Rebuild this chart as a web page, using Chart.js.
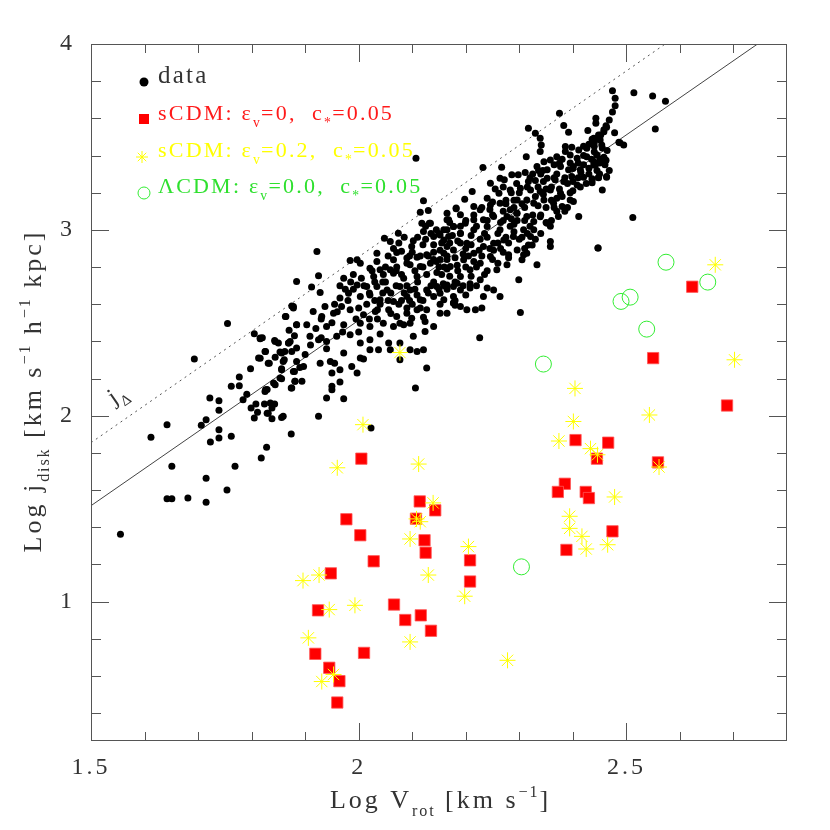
<!DOCTYPE html>
<html lang="en">
<head>
  <meta charset="UTF-8">
  <title>Log j_disk vs Log V_rot</title>
  <script src="https://cdn.jsdelivr.net/npm/chart.js"></script>
  <style>
    body {
      margin: 0;
      padding: 0;
      background: #fff;
    }
    #wrap {
      width: 830px;
      height: 830px;
    }
  </style>
</head>
<body>
  <div id="wrap">
    <canvas id="jChart" width="830" height="830"></canvas>
  </div>

  <script>
    // axis ticks
    const xTickValues = [1.5, 2, 2.5];
    const xTickLabels = ['1.5', '2', '2.5'];
    const xMinorTicks = [1.6, 1.7, 1.8, 1.9, 2.1, 2.2, 2.3, 2.4, 2.6, 2.7];
    const yTickValues = [1, 2, 3, 4];
    const yTickLabels = ['1', '2', '3', '4'];
    const yMinorTicks = [0.4, 0.6, 0.8, 1.2, 1.4, 1.6, 1.8, 2.2, 2.4, 2.6, 2.8, 3.2, 3.4, 3.6, 3.8];

    // observed galaxies [log Vrot, log j]
    const galaxyData = [
      [1.878,2.579],[1.875,2.59],[1.864,2.534],[1.884,2.489],[1.755,2.496],[1.805,2.441],[1.816,2.414],[1.82,2.42],
      [1.843,2.405],[1.85,2.391],[1.869,2.391],[1.872,2.40],[1.884,2.364],[1.826,2.346],[1.856,2.337],[1.862,2.345],
      [1.813,2.31],[1.816,2.309],[1.833,2.283],[1.844,2.314],[1.861,2.301],[1.693,2.305],[1.798,2.253],[1.856,2.253],
      [1.88,2.238],[1.777,2.208],[1.856,2.199],[1.881,2.185],[1.762,2.158],[1.777,2.161],[1.844,2.167],[1.874,2.149],
      [1.826,2.14],[1.829,2.141],[1.791,2.116],[1.722,2.095],[1.739,2.081],[1.784,2.086],[1.808,2.063],[1.824,2.063],
      [1.843,2.063],[1.799,2.041],[1.739,2.029],[1.838,2.041],[1.811,2.019],[1.831,2.014],[1.805,1.988],[1.838,1.984],
      [1.856,1.991],[1.642,1.952],[1.715,1.978],[1.706,1.949],[1.739,1.925],[1.612,1.884],[1.739,1.88],[1.762,1.889],
      [1.874,1.902],[1.723,1.859],[1.828,1.83],[1.818,1.773],[1.651,1.728],[1.769,1.728],[1.715,1.663],[1.754,1.6],
      [1.642,1.554],[1.651,1.554],[1.681,1.557],[1.715,1.534],[1.555,1.362],[2.023,1.934],
      [2.121,3.156],[2.115,3.095],[2.13,3.104],[1.922,2.883],[2.182,3.113],[2.168,3.054],[2.134,3.036],[2.125,3.02],
      [2.121,2.991],[2.074,2.982],[2.048,2.955],[2.059,2.937],[2.102,2.942],[2.099,2.91],[2.14,2.964],[2.152,2.973],
      [2.165,3.0],[2.177,3.018],[2.034,2.874],[2.071,2.878],[2.08,2.885],[1.984,2.835],[1.997,2.839],[2.003,2.82],
      [2.034,2.83],[2.065,2.839],[2.09,2.848],[2.109,2.853],[2.127,2.866],[2.14,2.88],[2.152,2.89],[2.165,2.91],
      [2.021,2.794],[2.04,2.785],[2.059,2.785],[2.071,2.80],[2.096,2.812],[2.115,2.803],[2.134,2.821],[2.152,2.84],
      [2.165,2.86],[2.028,2.749],[2.046,2.76],[2.065,2.767],[2.084,2.74],[2.109,2.749],[2.127,2.76],[2.146,2.77],
      [2.165,2.79],[2.184,2.81],[1.925,2.753],[1.972,2.74],[1.884,2.722],[1.912,2.692],[1.997,2.704],[2.015,2.695],
      [2.034,2.695],[2.053,2.677],[2.077,2.695],[2.096,2.677],[2.109,2.65],[2.127,2.677],[2.146,2.695],[2.165,2.704],
      [2.184,2.713],[1.928,2.663],[1.965,2.633],[1.981,2.659],[2.003,2.641],[2.021,2.65],[2.04,2.624],[2.065,2.615],
      [2.09,2.641],[2.115,2.624],[2.14,2.641],[2.159,2.624],[2.177,2.641],[1.878,2.588],[1.937,2.588],[1.953,2.552],
      [1.968,2.588],[1.984,2.57],[2.009,2.543],[2.031,2.561],[2.056,2.57],[2.071,2.534],[2.09,2.552],[2.109,2.57],
      [2.127,2.57],[2.152,2.552],[2.165,2.552],[2.177,2.606],[1.863,2.534],[1.915,2.561],[1.931,2.534],[1.884,2.489],
      [1.903,2.489],[1.94,2.48],[1.972,2.489],[2.003,2.498],[2.021,2.48],[2.046,2.498],[2.065,2.48],[2.084,2.489],
      [2.096,2.498],[2.124,2.507],[2.14,2.48],[1.909,2.427],[1.925,2.409],[1.94,2.40],[1.959,2.427],[1.984,2.436],
      [2.003,2.391],[2.021,2.409],[2.037,2.355],[2.056,2.391],[2.077,2.391],[2.102,2.427],[2.121,2.355],[2.124,2.453],
      [1.816,2.418],[1.844,2.40],[1.869,2.391],[1.875,2.346],[1.853,2.343],[1.825,2.346],[1.831,2.283],[1.859,2.292],
      [1.884,2.292],[1.897,2.265],[1.928,2.283],[1.947,2.292],[1.955,2.283],[1.972,2.337],[1.987,2.265],[2.003,2.31],
      [2.009,2.305],[1.997,2.23],[1.965,2.248],[1.95,2.23],[1.856,2.248],[1.878,2.238],[1.853,2.203],[1.881,2.185],
      [1.894,2.185],[1.965,2.181],[1.95,2.158],[1.95,2.14],[1.94,2.095],[1.972,2.091],[1.841,2.176],[1.825,2.131],
      [1.875,2.149],[1.835,2.068],[1.829,2.014],[1.859,1.997],[1.925,1.997],[2.106,2.149],[2.127,2.257],[2.109,2.346],
      [2.077,2.301],[2.059,2.355],[2.096,2.355],[2.021,2.355],[1.93,2.42],[2.077,2.498],[2.152,2.60],[2.18,2.595],
      [2.099,2.525],[2.121,2.53],[2.107,3.385],[2.118,3.036],[2.132,3.036],
      [2.375,3.627],[2.383,3.561],[2.392,3.525],[2.428,3.534],[2.458,3.538],[2.462,3.56],[2.486,3.471],[2.317,3.547],
      [2.33,3.52],[2.339,3.493],[2.341,3.457],[2.339,3.421],[2.436,3.487],[2.445,3.49],[2.448,3.51],[2.44,3.45],
      [2.44,3.47],[2.386,3.448],[2.398,3.445],[2.411,3.43],[2.426,3.439],[2.386,3.421],[2.395,3.403],[2.408,3.385],
      [2.426,3.394],[2.445,3.403],[2.458,3.385],[2.37,3.394],[2.358,3.376],[2.346,3.367],[2.313,3.394],[2.439,3.349],
      [2.43,3.332],[2.414,3.323],[2.401,3.341],[2.392,3.323],[2.377,3.341],[2.365,3.35],[2.352,3.323],[2.333,3.341],
      [2.336,3.32],[2.344,3.32],[2.232,3.335],[2.267,3.337],[2.286,3.296],[2.298,3.296],[2.311,3.308],[2.264,3.278],
      [2.272,3.27],[2.246,3.251],[2.317,3.26],[2.33,3.265],[2.352,3.278],[2.367,3.269],[2.383,3.26],[2.398,3.287],
      [2.42,3.283],[2.436,3.269],[2.448,3.283],[2.463,3.283],[2.408,3.242],[2.414,3.23],[2.4,3.21],[2.212,3.206],
      [2.198,3.165],[2.24,3.17],[2.262,3.197],[2.283,3.215],[2.302,3.224],[2.321,3.215],[2.339,3.206],[2.358,3.215],
      [2.377,3.197],[2.395,3.161],[2.401,3.152],[2.182,3.117],[2.165,3.054],[2.19,3.081],[2.215,3.126],[2.227,3.108],
      [2.246,3.134],[2.264,3.143],[2.275,3.16],[2.296,3.161],[2.314,3.161],[2.327,3.143],[2.346,3.161],[2.364,3.143],
      [2.38,3.126],[2.373,3.072],[2.352,3.036],[2.358,3.02],[2.314,3.072],[2.296,3.09],[2.277,3.072],[2.252,3.072],
      [2.233,3.054],[2.215,3.054],[2.199,3.036],[2.177,3.018],[2.159,3.0],[2.168,2.964],[2.19,2.982],[2.215,3.0],
      [2.24,3.018],[2.264,3.0],[2.283,3.02],[2.308,3.0],[2.327,3.0],[2.411,3.072],[2.447,2.903],[2.358,2.937],
      [2.358,2.91],[2.324,2.919],[2.333,2.812],[2.308,2.866],[2.305,2.839],[2.299,2.731],[2.302,2.555],[2.226,2.419],
      [2.264,2.642],[2.252,2.677],[2.233,2.642],[2.24,2.687],[2.23,2.579],[2.218,2.57],[2.202,2.57],[2.19,2.588],
      [2.177,2.606],[2.208,2.687],[2.208,2.71],[2.227,2.731],[2.258,2.785],[2.277,2.812],[2.28,2.866],[2.296,2.892],
      [2.252,2.89],[2.314,2.874],[2.317,2.919],[2.246,2.857],[2.227,2.821],[2.208,2.785],[2.19,2.749],[2.177,2.695],
      [2.19,2.677],[2.165,2.68],[2.152,2.659],[2.158,2.71],[2.171,2.803],[2.196,2.839],[2.215,2.874],[2.233,2.91],
      [2.252,2.928],[2.271,2.946],[2.289,2.964],[2.305,2.96],[2.321,2.964],[2.177,2.892],[2.159,2.874],[2.202,2.928],
      [2.227,2.95],[2.19,2.93],[2.327,3.045],[2.339,3.07],[2.296,3.05],[2.283,3.108],[2.159,2.946],[2.165,3.09],
      [2.474,3.749],[2.514,3.738],[2.549,3.72],[2.573,3.692],[2.479,3.708],[2.479,3.668],[2.474,3.634],[2.468,3.591],
      [2.443,3.60],[2.443,3.574],[2.463,3.552],[2.478,3.523],[2.458,3.528],[2.452,3.51],[2.439,3.493],[2.451,3.484],
      [2.554,3.543],[2.488,3.469],[2.495,3.457],[2.454,3.457],[2.464,3.427],[2.445,3.403],[2.458,3.391],[2.462,3.375],
      [2.451,3.38],[2.439,3.368],[2.442,3.349],[2.468,3.319],[2.463,3.287],[2.448,3.281],[2.436,3.275],[2.436,3.254],
      [2.455,3.215],[2.512,3.066],[2.447,2.902],
      [2.16,2.70],[2.17,2.75],[2.16,2.80],[2.18,2.85],[2.17,2.93],[2.19,2.98],[2.18,2.72],[2.20,2.80],
      [2.20,2.90],[2.19,3.02],[2.20,2.65],[2.18,2.62],[2.21,2.75],[2.22,2.80],[2.23,2.86],[2.21,2.92],
      [2.24,2.96],[2.22,3.02],[2.25,3.08],[2.23,3.12],[2.24,2.78],[2.25,2.84],[2.22,2.70],[2.24,3.05],
      [2.26,2.82],[2.27,2.88],[2.28,2.93],[2.26,2.98],[2.29,3.03],[2.27,3.10],[2.29,3.16],[2.30,3.20],
      [2.28,2.85],[2.30,2.95],[2.27,3.05],[2.29,3.12],[2.31,2.90],[2.33,2.95],[2.32,3.02],[2.34,3.08],
      [2.31,3.12],[2.33,3.18],[2.35,3.22],[2.32,3.28],[2.34,3.30],[2.35,3.12],[2.31,3.05],[2.34,2.98],
      [2.36,3.05],[2.37,3.10],[2.38,3.18],[2.36,3.23],[2.39,3.25],[2.37,3.30],[2.40,3.33],[2.38,3.38],
      [2.39,3.12],[2.36,3.16],[2.41,3.28],[2.42,3.35],[2.43,3.30],[2.42,3.40],[2.44,3.42],[2.43,3.46],
      [2.45,3.36],[2.41,3.36],[2.07,2.70],[2.08,2.76],[2.09,2.82],[2.10,2.88],[2.11,2.72],[2.12,2.80],
      [2.13,2.86],[2.14,2.92],[2.15,2.98],[2.12,2.92],[2.14,2.72],[2.15,2.80],[2.13,2.66],[2.10,2.60],
      [2.08,2.62],[2.06,2.66],[2.05,2.72],[2.11,2.96],[2.14,2.84],[2.15,2.68],[2.12,2.62],[2.09,2.70],
      [2.07,2.78],[2.05,2.80],[2.03,2.72],[2.02,2.66],[2.04,2.60],[2.06,2.55],[2.09,2.58],[1.96,2.56],
      [1.98,2.62],[2.00,2.58],[2.01,2.70],[1.99,2.76],[2.02,2.52],[1.97,2.45],[2.00,2.45],[2.04,2.44],
      [1.95,2.50],[2.03,2.62],[1.99,2.68],[1.90,2.33],[1.91,2.38],[1.88,2.43],[1.92,2.47],[1.89,2.26],
      [1.94,2.36],[1.93,2.52],[1.87,2.46],
      [2.155,2.76],[2.165,2.84],[2.175,2.97],[2.185,2.78],[2.195,2.87],[2.185,2.94],[2.2,3.05],[2.17,3.04],
      [2.155,2.93],[2.195,2.70],[2.215,2.83],[2.225,2.89],[2.235,2.98],[2.245,2.90],[2.21,2.97],[2.235,2.76],
      [2.25,3.15],[2.215,3.08],[2.245,3.11],[2.205,2.86],[2.265,2.90],[2.275,2.96],[2.285,3.06],[2.295,3.09],
      [2.265,3.04],[2.275,3.14],[2.285,3.20],[2.295,3.25],[2.26,2.93],[2.29,2.99],[2.255,3.22],[2.27,3.23],
      [2.315,2.98],[2.325,3.08],[2.335,3.13],[2.345,3.19],[2.315,3.23],[2.325,3.30],[2.345,3.26],[2.305,3.14],
      [2.335,3.23],[2.35,3.04],[2.365,3.12],[2.375,3.22],[2.385,3.28],[2.395,3.20],[2.365,3.28],[2.375,3.36],
      [2.385,3.10],[2.395,3.36],[2.40,3.26],[2.37,3.17],[2.415,3.31],[2.425,3.25],[2.435,3.38],[2.445,3.32],
      [2.455,3.44],[2.42,3.45],[2.45,3.30],[2.46,3.35],[2.055,2.86],[2.065,2.90],[2.075,2.93],[2.085,2.96],
      [2.095,2.86],[2.105,2.78],[2.115,2.86],[2.125,2.95],[2.135,2.70],[2.145,2.83],[2.135,2.98],[2.145,3.00],
      [2.105,2.68],[2.085,2.66],[2.075,2.60],[2.095,2.62],[2.115,2.58],[2.045,2.66],[2.055,2.62],[2.035,2.57],
      [1.955,2.60],[1.975,2.68],[1.985,2.72],[2.005,2.74],[2.015,2.60],[2.025,2.78],[2.035,2.52],[1.995,2.52],
      [1.965,2.70],[2.045,2.72]
    ];

    // models
    const sCDMeps0 = [
      [2.005,1.769],[2.114,1.539],[2.143,1.491],[2.107,1.446],[1.977,1.443],[2.003,1.357],[2.123,1.33],[2.125,1.263],
      [2.028,1.217],[2.208,1.222],[1.948,1.152],[2.208,1.108],[1.924,0.953],[2.066,0.984],[2.116,0.926],[2.087,0.901],
      [2.135,0.843],[1.919,0.719],[2.01,0.724],[1.945,0.644],[1.964,0.572],[1.96,0.457],
      [2.623,2.694],[2.55,2.31],[2.688,2.055],[2.405,1.869],[2.466,1.855],[2.445,1.769],[2.559,1.749],[2.385,1.634],
      [2.372,1.59],[2.424,1.59],[2.43,1.557],[2.474,1.378],[2.388,1.278]
    ];
    const sCDMeps02 = [
      [2.008,1.952],[1.96,1.72],[2.112,1.74],[2.139,1.531],[2.108,1.445],[2.115,1.43],[2.096,1.337],[2.205,1.296],
      [2.13,1.143],[1.926,1.143],[1.896,1.113],[2.198,1.029],[1.945,0.957],[1.993,0.98],[1.906,0.805],[2.096,0.783],
      [1.953,0.608],[1.931,0.57],[2.278,0.684],[2.077,2.34],
      [2.666,2.812],[2.702,2.301],[2.404,2.147],[2.543,2.004],[2.401,1.969],[2.374,1.864],[2.433,1.823],[2.446,1.79],
      [2.561,1.724],[2.478,1.563],[2.394,1.459],[2.394,1.394],[2.417,1.351],[2.465,1.306],[2.425,1.283]
    ];
    const LCDMeps0 = [
      [2.574,2.826],[2.652,2.719],[2.507,2.638],[2.49,2.615],[2.538,2.466],[2.345,2.278],[2.304,1.187]
    ];

    // reference relations
    const solidLineX = [1.5, 2.745];
    const solidLineY = [1.516, 4.0];
    const dottedLineX = [1.5, 2.5725];
    const dottedLineY = [1.855, 4.0];

    const FONT = '"Liberation Serif", "Times New Roman", serif';
    const toXY = arr => arr.map(p => ({ x: p[0], y: p[1] }));

    // text with sub/superscripts: [text, 0 normal | 1 sub | 2 sup]
    function drawRich(ctx, segs, x, y, size, color, spacing, align) {
      const parts = [];
      let w = 0;
      for (const [t, m] of segs) {
        const fs = m ? size * 0.62 : size;
        ctx.font = fs + 'px ' + FONT;
        const sp = m ? spacing * 0.62 : spacing;
        for (const ch of t) {
          const cw = ctx.measureText(ch).width;
          parts.push({ ch, fs, m, cw, sp });
          w += cw + sp;
        }
      }
      w -= parts.length ? parts[parts.length - 1].sp : 0;
      let cx = align === 'center' ? x - w / 2 : x;
      ctx.fillStyle = color;
      ctx.textBaseline = 'alphabetic';
      ctx.textAlign = 'left';
      for (const p of parts) {
        ctx.font = p.fs + 'px ' + FONT;
        const dy = p.m === 1 ? size * 0.3 : (p.m === 2 ? -size * 0.42 : 0);
        ctx.fillText(p.ch, cx, y + dy);
        cx += p.cw + p.sp;
      }
    }

    const legendItems = [
      { marker: 'dot', color: '#000', text: '#333', size: 25, y: 83, segs: [['data', 0]] },
      { marker: 'rect', color: '#ff0000', text: '#ff1a1a', size: 22, y: 120,
        segs: [['sCDM: \u03b5', 0], ['v', 1], ['=0,  c', 0], ['*', 1], ['=0.05', 0]] },
      { marker: 'star', color: '#ffff00', text: '#ffff00', size: 22, y: 157,
        segs: [['sCDM: \u03b5', 0], ['v', 1], ['=0.2,  c', 0], ['*', 1], ['=0.05', 0]] },
      { marker: 'circle', color: '#33ee33', text: '#2ee02e', size: 22, y: 193,
        segs: [['\u039bCDM: \u03b5', 0], ['v', 1], ['=0.0,  c', 0], ['*', 1], ['=0.05', 0]] }
    ];

    const framePlugin = {
      id: 'frame',
      beforeDraw(chart) {
        const ctx = chart.ctx;
        ctx.save();
        ctx.fillStyle = '#fff';
        ctx.fillRect(0, 0, chart.width, chart.height);
        ctx.restore();
        if ('letterSpacing' in ctx) ctx.letterSpacing = '3px';
      },
      afterDraw(chart) {
        const ctx = chart.ctx;
        const xs = chart.scales.x, ys = chart.scales.y;
        const a = chart.chartArea;
        if ('letterSpacing' in ctx) ctx.letterSpacing = '0px';
        ctx.save();
        ctx.strokeStyle = '#555';
        ctx.lineWidth = 1;
        ctx.strokeRect(a.left + 0.5, a.top + 0.5, a.right - a.left - 1, a.bottom - a.top - 1);
        ctx.beginPath();
        const xt = (v, len) => {
          const px = Math.round(xs.getPixelForValue(v)) + 0.5;
          ctx.moveTo(px, a.bottom); ctx.lineTo(px, a.bottom - len);
          ctx.moveTo(px, a.top); ctx.lineTo(px, a.top + len);
        };
        const yt = (v, len) => {
          const py = Math.round(ys.getPixelForValue(v)) + 0.5;
          ctx.moveTo(a.left, py); ctx.lineTo(a.left + len, py);
          ctx.moveTo(a.right, py); ctx.lineTo(a.right - len, py);
        };
        xTickValues.forEach(v => xt(v, 18));
        xMinorTicks.forEach(v => xt(v, 9));
        yTickValues.forEach(v => yt(v, 18));
        yMinorTicks.forEach(v => yt(v, 10));
        ctx.stroke();

        // axis titles
        drawRich(ctx, [['Log V', 0], ['rot', 1], [' [km s', 0], ['\u22121', 2], [']', 0]],
          (a.left + a.right) / 2, 808, 26, '#333', 3, 'center');
        ctx.save();
        ctx.translate(41, (a.top + a.bottom) / 2);
        ctx.rotate(-Math.PI / 2);
        drawRich(ctx, [['Log j', 0], ['disk', 1], [' [km s', 0], ['\u22121', 2], [' h', 0], ['\u22121', 2], [' kpc]', 0]],
          0, 0, 26, '#333', 3, 'center');
        ctx.restore();

        // j_Delta label along the dotted relation
        ctx.save();
        ctx.translate(114, 405);
        ctx.rotate(-0.6);
        drawRich(ctx, [['j', 0], ['\u0394', 1]], 0, 0, 24, '#333', 1, 'left');
        ctx.restore();

        // legend
        legendItems.forEach(it => {
          const mx = 144;
          ctx.save();
          if (it.marker === 'dot') {
            ctx.fillStyle = it.color;
            ctx.beginPath(); ctx.arc(mx, 82, 4.5, 0, Math.PI * 2); ctx.fill();
          } else if (it.marker === 'rect') {
            ctx.fillStyle = it.color;
            ctx.fillRect(mx - 5, 114, 10, 10);
          } else if (it.marker === 'star') {
            ctx.strokeStyle = it.color;
            ctx.beginPath();
            for (let k = 0; k < 4; k++) {
              const ang = k * Math.PI / 4;
              ctx.moveTo(142 - 6 * Math.cos(ang), 157 - 6 * Math.sin(ang));
              ctx.lineTo(142 + 6 * Math.cos(ang), 157 + 6 * Math.sin(ang));
            }
            ctx.stroke();
          } else {
            ctx.strokeStyle = it.color;
            ctx.beginPath(); ctx.arc(mx, 193, 6, 0, Math.PI * 2); ctx.stroke();
          }
          ctx.restore();
          drawRich(ctx, it.segs, 158, it.y, it.size, it.text, 2.2, 'left');
        });
        ctx.restore();
      }
    };

    const ctx = document.getElementById('jChart').getContext('2d');
    new Chart(ctx, {
      type: 'scatter',
      data: {
        datasets: [
          {
            label: 'LCDM eps=0.0',
            data: toXY(LCDMeps0),
            pointStyle: 'circle',
            pointRadius: 8,
            backgroundColor: 'rgba(0,0,0,0)',
            borderColor: '#33ee33',
            borderWidth: 1,
            order: 1
          },
          {
            label: 'sCDM eps=0.2',
            data: toXY(sCDMeps02),
            pointStyle: 'star',
            pointRadius: 8,
            borderColor: '#ffff00',
            backgroundColor: '#ffff00',
            borderWidth: 1,
            order: 2
          },
          {
            label: 'sCDM eps=0',
            data: toXY(sCDMeps0),
            pointStyle: 'rect',
            pointRadius: 8,
            backgroundColor: '#ff0000',
            borderColor: '#ff5555',
            borderWidth: 0.8,
            order: 3
          },
          {
            label: 'data',
            data: toXY(galaxyData),
            pointStyle: 'circle',
            pointRadius: 3.5,
            backgroundColor: '#000',
            borderWidth: 0,
            order: 4
          },
          {
            label: 'j fit',
            data: solidLineX.map((x, i) => ({ x, y: solidLineY[i] })),
            showLine: true,
            pointRadius: 0,
            borderColor: '#444',
            borderWidth: 1,
            order: 5
          },
          {
            label: 'j Delta',
            data: dottedLineX.map((x, i) => ({ x, y: dottedLineY[i] })),
            showLine: true,
            pointRadius: 0,
            borderColor: '#555',
            borderWidth: 1,
            borderDash: [2, 4],
            order: 6
          }
        ]
      },
      options: {
        responsive: false,
        animation: false,
        layout: { padding: { top: 44, right: 43, left: 0, bottom: 0 } },
        plugins: {
          legend: { display: false },
          tooltip: { enabled: false }
        },
        scales: {
          x: {
            type: 'linear',
            min: 1.5,
            max: 2.8,
            grid: { display: false, drawTicks: false },
            border: { display: false },
            afterBuildTicks: s => { s.ticks = xTickValues.map(v => ({ value: v })); },
            afterFit: s => { s.height = 89; },
            ticks: {
              padding: 12,
              color: '#333',
              font: { family: FONT, size: 24 },
              maxRotation: 0,
              callback: v => { const i = xTickValues.indexOf(v); return i >= 0 ? xTickLabels[i] : ''; }
            }
          },
          y: {
            type: 'linear',
            min: 0.25,
            max: 4,
            grid: { display: false, drawTicks: false },
            border: { display: false },
            afterBuildTicks: s => { s.ticks = yTickValues.map(v => ({ value: v })); },
            afterFit: s => { s.width = 91; },
            ticks: {
              padding: 16,
              color: '#333',
              font: { family: FONT, size: 24 },
              callback: v => { const i = yTickValues.indexOf(v); return i >= 0 ? yTickLabels[i] : ''; }
            }
          }
        }
      },
      plugins: [framePlugin]
    });
  </script>
</body>
</html>
